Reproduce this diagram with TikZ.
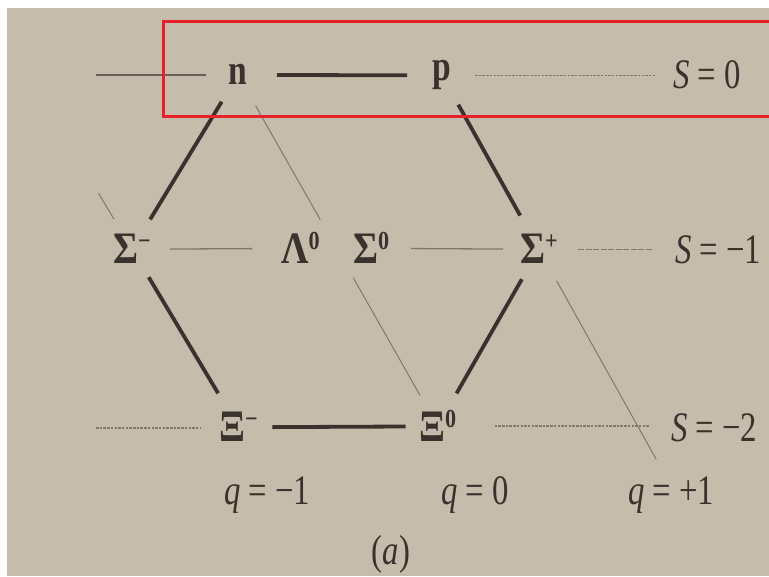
\documentclass[tikz,border=0pt]{standalone}
\usepackage{fontspec}
\setmainfont{Liberation Serif}
\usetikzlibrary{calc}
\definecolor{paper}{RGB}{197,188,172}
\definecolor{ink}{RGB}{58,50,44}
\definecolor{greyline}{RGB}{105,97,89}
\definecolor{faintline}{RGB}{128,120,110}
\definecolor{markred}{RGB}{232,32,42}
\newcommand{\nrw}[1]{\scalebox{0.78}[1]{#1}}
\newcommand{\grk}[1]{\scalebox{0.85}[1]{\fontsize{45}{45}\selectfont #1}}
\newcommand{\supr}[1]{\raisebox{14pt}{\fontsize{26}{26}\selectfont #1}}
\begin{document}
\begin{tikzpicture}[x=1pt,y=-1pt,
  particle/.style={inner sep=0pt,text=ink,font=\fontsize{43}{43}\selectfont\bfseries},
  axislabel/.style={inner sep=0pt,text=ink,font=\fontsize{42}{42}\selectfont,anchor=base west},
  heavy/.style={draw=ink,line width=3.8pt},
  rowsolid/.style={draw=greyline,line width=2.4pt},
  rowthin/.style={draw=faintline,line width=1.3pt},
  rowdot/.style={draw=faintline,line width=1.8pt,dash pattern=on 2.5pt off 1.2pt},
  qline/.style={draw=faintline,line width=1pt}]
\useasboundingbox (0,0) rectangle (769,577);
\fill[white] (0,0) rectangle (769,577);
\fill[paper] (7,8) rectangle (769,576);

% particles
\node[particle,anchor=base] (n) at (238,85) {\nrw{n}};
\node[particle,anchor=base] (p) at (442,81) {\nrw{p}};
\node[particle,anchor=base west] (sm) at (113,264) {\grk{Σ\supr{−}}};
\node[particle,anchor=base west] (lam) at (281,264) {\grk{Λ\supr{0}}};
\node[particle,anchor=base west] (s0) at (353,264) {\grk{Σ\supr{0}}};
\node[particle,anchor=base west] (sp) at (520,264) {\grk{Σ\supr{+}}};
\node[particle,anchor=base west] (xim) at (219,442) {\grk{Ξ\supr{−}}};
\node[particle,anchor=base west] (xi0) at (419,442) {\grk{Ξ\supr{0}}};

% axis labels
\node[axislabel] (S0) at (673,89) {\nrw{\textit{S} = 0}};
\node[axislabel] (S1) at (675,264) {\nrw{\textit{S} = −1}};
\node[axislabel] (S2) at (671,442) {\nrw{\textit{S} = −2}};
\node[axislabel] (q1) at (224,504) {\nrw{\textit{q} = −1}};
\node[axislabel] (q2) at (441,504) {\nrw{\textit{q} = 0}};
\node[axislabel] (q3) at (628,504) {\nrw{\textit{q} = +1}};
\node[axislabel,anchor=base] (cap) at (391,564) {\nrw{(\textit{a})}};

% hexagon edges
\draw[heavy] ($(n.center)!0.154!(sm.center)$) -- ($(n.center)!0.829!(sm.center)$);
\draw[heavy] ($(p.center)!0.168!(sp.center)$) -- ($(p.center)!0.806!(sp.center)$);
\draw[heavy] ($(sm.center)!0.157!(xim.center)$) -- ($(sm.center)!0.809!(xim.center)$);
\draw[heavy] ($(sp.center)!0.169!(xi0.center)$) -- ($(sp.center)!0.814!(xi0.center)$);

% charge lines
\draw[qline] ($(n.center)!0.088!(xi0.center)$) -- ($(n.center)!0.412!(xi0.center)$);
\draw[qline] ($(n.center)!0.577!(xi0.center)$) -- ($(n.center)!0.912!(xi0.center)$);
\draw[qline] ($(p.center)!1.182!(sp.center)$) -- ($(p.center)!2.209!(sp.center)$);
\draw[qline] ($(xim.center)!1.169!(sm.center)$) -- ($(xim.center)!1.315!(sm.center)$);

% strangeness rows
\coordinate (r0a) at (96,75);
\draw[rowsolid,shorten >=32pt] (r0a) -- (r0a -| n.center);
\draw[heavy,shorten <=39pt,shorten >=35pt] (n.center) -- (p.center);
\draw[rowdot,shorten <=33pt,shorten >=18pt] (p.center) -- (p.center -| S0.west);
\draw[rowthin,shorten <=38pt,shorten >=48pt] (sm.center) -- (lam.center);
\draw[rowthin,shorten <=40pt,shorten >=36pt] (s0.center) -- (sp.center);
\draw[rowthin,dash pattern=on 6pt off 1.5pt,shorten <=39pt,shorten >=23pt] (sp.center) -- (sp.center -| S1.west);
\coordinate (r2a) at (96,428);
\draw[rowdot,shorten >=38pt] (r2a) -- (r2a -| xim.center);
\draw[heavy,shorten <=34pt,shorten >=32pt] (xim.center) -- (xi0.center);
\draw[rowdot,shorten <=57pt,shorten >=21pt] (xi0.center) -- (xi0.center -| S2.west);

% highlight frame
\draw[markred,line width=3pt] (775,116.5) -- (163.5,116.5) -- (163.5,21.5) -- (775,21.5);
\end{tikzpicture}
\end{document}
